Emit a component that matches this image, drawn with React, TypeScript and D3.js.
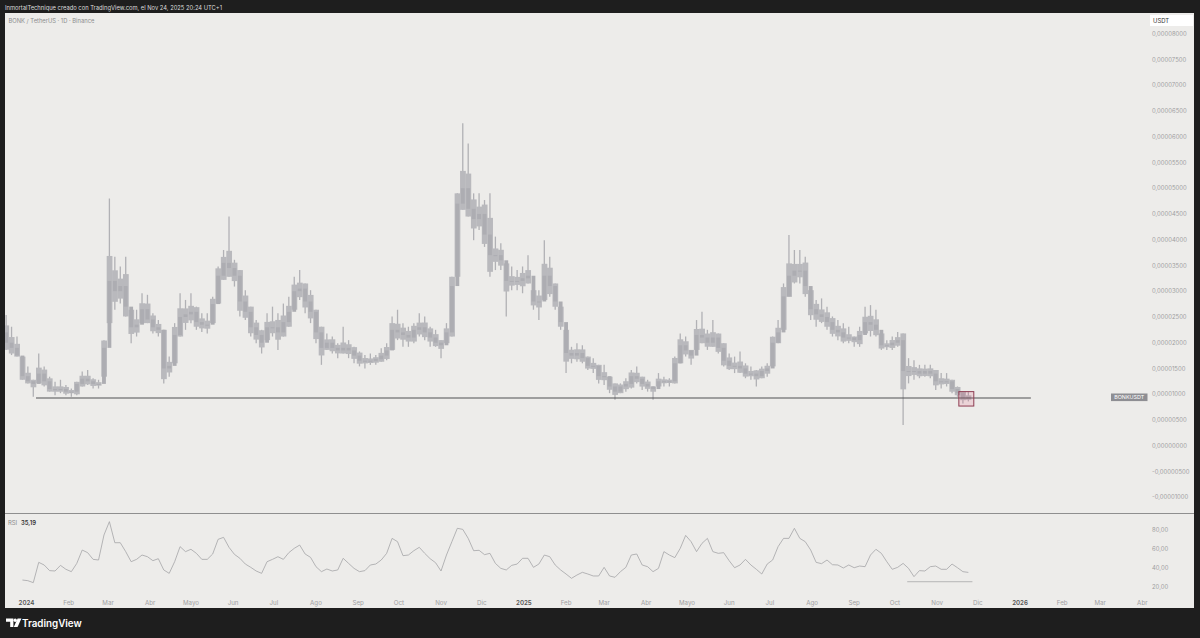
import React, { useRef, useEffect } from "react";
import { select, scaleLinear, scaleUtc, line, utcMonth } from "d3";

const W = 1200;
const H = 638;
const DAY = 86400000;

// BONK/USDT daily chart, read off in 4-day buckets from the Binance listing day
// prices are in millionths of a USDT (25.4 -> 0,00002540)
const startDay = Date.UTC(2023, 11, 15);
const bucketDays = 4;
const firstOpen = 22.0;

const highs = [
  25.4, 23.1, 21.2, 17.3, 15.4, 12.8, 17.9, 15.4, 13.4, 12.4,
  12.8, 11.8, 11.1, 12.4, 14.4, 14.7, 13.1, 12.8, 20.5, 48.0,
  36.7, 34.8, 36.7, 26.4, 26.4, 29.6, 29.3, 25.7, 24.4, 22.5,
  17.3, 23.8, 29.6, 28.3, 29.6, 27.0, 25.7, 25.7, 28.9, 34.8,
  38.0, 44.5, 36.1, 34.1, 30.2, 27.0, 24.4, 22.5, 25.7, 27.0,
  25.7, 27.6, 28.9, 32.8, 34.1, 31.5, 30.2, 26.4, 23.1, 21.8,
  21.2, 19.9, 23.1, 20.5, 19.2, 18.3, 17.6, 17.9, 17.6, 18.9,
  19.9, 25.1, 26.4, 23.8, 23.1, 23.8, 25.7, 25.1, 23.1, 22.5,
  20.5, 23.8, 32.8, 49.0, 62.6, 58.7, 49.0, 49.0, 47.7, 49.0,
  40.6, 39.3, 35.4, 34.8, 34.1, 34.8, 37.0, 30.2, 30.2, 39.9,
  36.7, 31.5, 27.0, 22.5, 19.2, 19.9, 19.5, 17.3, 17.0, 15.7,
  15.7, 13.4, 12.1, 12.1, 13.1, 14.7, 15.4, 13.4, 12.8, 11.5,
  14.1, 13.4, 13.1, 17.3, 21.8, 21.2, 18.6, 24.4, 26.0, 22.5,
  24.4, 21.8, 19.9, 17.9, 17.3, 18.3, 16.0, 15.4, 14.7, 15.4,
  16.0, 21.2, 24.4, 31.5, 40.9, 38.0, 38.0, 36.7, 30.2, 28.3,
  28.6, 27.0, 25.1, 24.4, 23.8, 23.1, 21.2, 23.1, 27.0, 27.3,
  26.4, 21.8, 20.5, 21.2, 22.1, 21.8, 17.0, 16.6, 15.7, 15.7,
  15.7, 14.7, 14.1, 14.1, 12.8, 11.5, 10.5, 10.5,
];

const lows = [
  18.6, 17.6, 17.3, 12.8, 12.1, 9.5, 12.1, 11.5, 10.5, 9.8,
  10.2, 9.8, 9.5, 9.8, 11.5, 11.8, 11.1, 11.1, 13.4, 23.8,
  26.4, 27.6, 25.1, 19.9, 21.2, 23.8, 23.8, 21.8, 21.2, 12.1,
  13.4, 16.0, 21.2, 22.5, 23.8, 22.5, 22.1, 21.8, 23.8, 27.6,
  32.2, 32.8, 30.9, 25.1, 24.4, 21.2, 19.9, 17.9, 20.5, 21.2,
  18.6, 21.2, 23.1, 26.4, 28.3, 25.7, 23.8, 19.9, 15.7, 18.6,
  17.9, 17.0, 17.9, 17.0, 16.0, 15.4, 15.0, 15.7, 15.7, 16.3,
  16.6, 18.6, 20.5, 19.2, 19.2, 19.9, 21.2, 20.5, 19.2, 19.2,
  17.0, 19.9, 21.2, 32.8, 45.8, 44.5, 39.9, 41.9, 38.6, 32.8,
  34.1, 34.1, 25.1, 30.2, 30.2, 29.6, 31.5, 26.4, 24.4, 28.3,
  28.9, 26.4, 22.5, 14.1, 16.0, 16.3, 16.0, 14.7, 14.1, 12.1,
  11.8, 10.2, 8.9, 10.2, 10.5, 11.1, 12.1, 10.8, 10.5, 8.9,
  11.5, 11.5, 11.5, 12.1, 16.0, 17.3, 15.7, 18.6, 19.9, 18.6,
  19.2, 17.9, 15.4, 14.7, 14.1, 14.1, 13.1, 12.8, 11.5, 13.1,
  13.4, 15.4, 19.9, 22.5, 28.9, 31.5, 31.5, 28.9, 24.4, 23.1,
  23.8, 22.5, 21.2, 20.5, 19.9, 19.9, 19.2, 19.2, 21.8, 21.2,
  21.2, 18.6, 18.6, 18.6, 19.2, 4.0, 12.1, 12.8, 13.1, 13.4,
  13.1, 10.8, 11.1, 11.5, 10.2, 9.5, 8.2, 8.6,
];

const closes = [
  20.0, 19.0, 17.5, 13.5, 12.5, 12.0, 14.0, 12.5, 11.0, 11.0,
  11.0, 10.5, 10.5, 12.0, 13.0, 12.5, 12.0, 12.0, 19.0, 32.0,
  30.0, 31.0, 27.0, 23.0, 23.5, 26.5, 24.5, 23.0, 22.5, 15.0,
  15.5, 21.5, 25.0, 25.5, 26.0, 24.0, 23.5, 23.5, 27.5, 33.0,
  35.5, 34.5, 33.0, 28.0, 26.0, 23.0, 21.5, 20.0, 23.0, 23.0,
  22.0, 24.0, 26.0, 30.0, 30.5, 28.0, 26.0, 22.0, 19.0, 20.0,
  19.0, 18.5, 19.0, 18.5, 17.5, 16.5, 16.5, 16.5, 16.8, 17.5,
  18.5, 22.5, 22.0, 21.5, 21.0, 22.5, 23.0, 22.0, 21.0, 20.0,
  19.5, 22.0, 31.0, 47.0, 50.0, 46.0, 44.0, 45.0, 41.0, 37.0,
  37.0, 36.0, 32.0, 32.0, 32.0, 32.5, 33.0, 28.0, 28.0, 33.0,
  31.0, 28.0, 24.0, 18.0, 17.5, 18.0, 17.0, 15.5, 15.5, 13.5,
  13.5, 11.5, 10.5, 11.5, 12.0, 13.5, 13.0, 12.0, 11.5, 11.0,
  12.5, 12.5, 12.5, 16.0, 19.5, 18.5, 17.5, 21.5, 21.0, 20.0,
  21.0, 19.0, 16.5, 15.5, 15.5, 15.0, 14.0, 14.0, 13.5, 14.5,
  15.0, 20.0, 22.0, 29.0, 33.0, 34.0, 34.0, 31.0, 26.5, 25.5,
  25.0, 24.0, 22.5, 22.0, 21.0, 21.0, 20.5, 21.5, 24.0, 23.5,
  22.5, 19.5, 19.5, 20.0, 20.5, 14.5, 14.5, 14.5, 14.0, 14.5,
  14.0, 12.5, 12.5, 12.5, 11.0, 10.2, 9.3, 9.4,
];

// RSI(14), same buckets, first value at bucket 3
const rsiStartBucket = 3;
const rsiValues = [
  27.1, 26.4, 24.3, 45.9, 43.1, 37.1, 36.7,
  42.7, 38.5, 36.0, 44.8, 59.0, 56.2, 49.1, 48.4, 75.0, 89.2,
  66.8, 66.8, 57.3, 46.6, 49.1, 53.7, 51.9, 47.7, 49.8, 37.8,
  34.2, 46.6, 62.6, 57.3, 59.8, 55.5, 49.1, 49.1, 54.8, 70.4,
  72.5, 61.9, 54.4, 50.2, 44.1, 40.6, 36.7, 34.2, 46.6, 49.1,
  51.9, 49.1, 56.2, 60.8, 64.3, 54.8, 51.2, 41.3, 36.0, 38.8,
  36.7, 37.8, 50.2, 44.8, 39.5, 36.0, 37.1, 43.1, 44.1, 48.4,
  55.5, 71.4, 67.9, 53.0, 53.7, 58.3, 61.9, 55.5, 49.8, 45.5,
  36.7, 53.7, 67.9, 82.1, 81.0, 71.4, 58.3, 58.7, 54.1, 55.5,
  44.8, 39.5, 37.8, 42.7, 44.1, 50.2, 50.2, 40.6, 44.1, 53.7,
  51.9, 43.1, 37.8, 33.5, 28.9, 32.4, 35.3, 33.5, 31.4, 31.4,
  40.6, 31.4, 30.0, 36.0, 40.6, 53.7, 54.8, 43.1, 41.3, 36.0,
  39.5, 57.3, 53.7, 50.9, 60.8, 74.6, 67.9, 57.3, 66.1, 71.4,
  57.3, 55.5, 56.2, 47.7, 40.2, 43.1, 49.1, 43.1, 38.5, 33.5,
  44.1, 48.4, 62.6, 71.4, 71.4, 82.1, 71.4, 67.9, 59.0, 45.9,
  44.5, 48.4, 43.4, 43.1, 39.9, 43.1, 40.2, 42.0, 41.3, 53.7,
  59.8, 55.5, 46.6, 38.5, 40.6, 44.8, 39.5, 30.7, 37.1, 36.7,
  41.3, 42.0, 38.5, 38.5, 44.1, 40.2, 36.0, 35.2,
];
const rsiLast = "35,19";

// drawings
const supportLevel = 9.26;
const supportFrom = "2024-01-08";
const supportTo = "2026-01-09";
const boxFrom = "2025-11-17";
const boxTo = "2025-11-28";
const boxLow = 7.7;
const boxHigh = 10.5;
const rsiLineLevel = 25.3;
const rsiLineFrom = "2025-10-10";
const rsiLineTo = "2025-11-27";

const priceTicks = [-10, -5, 0, 5, 10, 15, 20, 25, 30, 35, 40, 45, 50, 55, 60, 65, 70, 75, 80];
const rsiTicks = [20, 40, 60, 80];
const monthNames = ["", "Feb", "Mar", "Abr", "Mayo", "Jun", "Jul", "Ago", "Sep", "Oct", "Nov", "Dic"];

const FONT = "Inter, 'Noto Sans', Roboto, sans-serif";

function App() {
  const svgRef = useRef<SVGSVGElement>(null);

  useEffect(() => {
    const svg = select(svgRef.current);
    const content = svg.select(".content");
    content.selectAll("*").remove();

    const panel = { left: 5, right: 1194, top: 13, bottom: 608 };
    const sepY = 513.5;

    const x = scaleUtc()
      .domain([new Date(Date.UTC(2024, 0, 1)), new Date(Date.UTC(2026, 0, 1))])
      .range([26.5, 1020]);
    const yP = scaleLinear().domain([0, 80]).range([445.7, 33.7]);
    const yR = scaleLinear().domain([20, 80]).range([586.7, 530.3]);

    const bucketStart = (i: number) => new Date(startDay + i * bucketDays * DAY);
    const bucketMid = (i: number) => new Date(startDay + (i * bucketDays + bucketDays / 2) * DAY);

    const clip = content.append("g").attr("clip-path", "url(#pricePanel)");

    const bars = highs.map((h, i) => ({
      i,
      high: h,
      low: lows[i],
      open: i === 0 ? firstOpen : closes[i - 1],
      close: closes[i],
    }));

    // thin high-low wick, then the open-close body over it
    clip
      .selectAll(".wick")
      .data(bars)
      .join("line")
      .attr("class", "wick")
      .attr("x1", (d) => x(bucketMid(d.i)))
      .attr("x2", (d) => x(bucketMid(d.i)))
      .attr("y1", (d) => yP(d.high))
      .attr("y2", (d) => yP(d.low))
      .attr("stroke", "#b1b1b5")
      .attr("stroke-width", 1.3);

    // the daily bars within a bucket blur into a band; draw the middle part of each range
    const bandTop = (d) => Math.min(d.high, Math.max(d.open, d.close) + (d.high - d.low) * 0.2);
    const bandBot = (d) => Math.max(d.low, Math.min(d.open, d.close) - (d.high - d.low) * 0.2);
    clip
      .selectAll(".band")
      .data(bars)
      .join("rect")
      .attr("class", "band")
      .attr("x", (d) => x(bucketStart(d.i)))
      .attr("width", (d) => x(bucketStart(d.i + 1)) - x(bucketStart(d.i)) + 0.3)
      .attr("y", (d) => yP(bandTop(d)))
      .attr("height", (d) => Math.max(1, yP(bandBot(d)) - yP(bandTop(d))))
      .attr("fill", "#b9b9bd");

    clip
      .selectAll(".body")
      .data(bars)
      .join("rect")
      .attr("class", "body")
      .attr("x", (d) => x(bucketStart(d.i)) + 0.8)
      .attr("width", (d) => x(bucketStart(d.i + 1)) - x(bucketStart(d.i)) - 1.6)
      .attr("y", (d) => yP(Math.max(d.open, d.close)))
      .attr("height", (d) => Math.max(1, Math.abs(yP(d.open) - yP(d.close))))
      .attr("fill", "#adadb2");

    // support line
    content
      .append("line")
      .attr("x1", x(new Date(supportFrom)))
      .attr("x2", x(new Date(supportTo)))
      .attr("y1", yP(supportLevel))
      .attr("y2", yP(supportLevel))
      .attr("stroke", "#505053")
      .attr("stroke-width", 1.2);

    // highlight box
    content
      .append("rect")
      .attr("x", x(new Date(boxFrom)))
      .attr("y", yP(boxHigh))
      .attr("width", x(new Date(boxTo)) - x(new Date(boxFrom)))
      .attr("height", yP(boxLow) - yP(boxHigh))
      .attr("fill", "rgba(226,80,120,0.16)")
      .attr("stroke", "#8f3d52")
      .attr("stroke-width", 1);

    // price scale
    content
      .append("g")
      .selectAll("text")
      .data(priceTicks)
      .join("text")
      .attr("x", 1152)
      .attr("y", (d) => yP(d) + 2.1)
      .attr("font-size", 5.9)
      .attr("fill", "#9d9d9f")
      .text((d) => (d * 1e-6).toFixed(8).replace(".", ","));

    // last price tag
    const lastY = yP(closes[closes.length - 1]);
    content
      .append("rect")
      .attr("x", 1111)
      .attr("y", lastY - 3.8)
      .attr("width", 36.5)
      .attr("height", 7.6)
      .attr("fill", "#8e8e93");
    content
      .append("text")
      .attr("x", 1129.2)
      .attr("y", lastY + 2)
      .attr("text-anchor", "middle")
      .attr("font-size", 5.4)
      .attr("fill", "#ffffff")
      .text("BONKUSDT");

    // panel separator
    content
      .append("line")
      .attr("x1", panel.left)
      .attr("x2", panel.right)
      .attr("y1", sepY)
      .attr("y2", sepY)
      .attr("stroke", "#8f8f8f")
      .attr("stroke-width", 1);

    // RSI
    const rsiPts = rsiValues.map((v, k) => ({ t: bucketMid(k + rsiStartBucket), v }));
    const rsiLine = line<{ t: Date; v: number }>()
      .x((d) => x(d.t))
      .y((d) => yR(d.v));
    content
      .append("path")
      .attr("d", rsiLine(rsiPts))
      .attr("fill", "none")
      .attr("stroke", "#a4a4a7")
      .attr("stroke-width", 0.8);

    content
      .append("line")
      .attr("x1", x(new Date(rsiLineFrom)))
      .attr("x2", x(new Date(rsiLineTo)))
      .attr("y1", yR(rsiLineLevel))
      .attr("y2", yR(rsiLineLevel))
      .attr("stroke", "#a8a8aa")
      .attr("stroke-width", 0.8);

    content
      .append("g")
      .selectAll("text")
      .data(rsiTicks)
      .join("text")
      .attr("x", 1152)
      .attr("y", (d) => yR(d) + 2.1)
      .attr("font-size", 5.9)
      .attr("fill", "#9d9d9f")
      .text((d) => d.toFixed(2).replace(".", ","));

    // time axis
    const months = utcMonth.range(new Date(Date.UTC(2024, 0, 1)), new Date(Date.UTC(2026, 4, 1)));
    content
      .append("g")
      .selectAll("text")
      .data(months)
      .join("text")
      .attr("x", (d) => x(d))
      .attr("y", 604.5)
      .attr("text-anchor", "middle")
      .attr("font-size", 6.2)
      .attr("font-weight", (d) => (d.getUTCMonth() === 0 ? 600 : 400))
      .attr("fill", (d) => (d.getUTCMonth() === 0 ? "#555" : "#a0a0a2"))
      .text((d) => (d.getUTCMonth() === 0 ? String(d.getUTCFullYear()) : monthNames[d.getUTCMonth()]));
  }, []);

  return (
    <svg
      ref={svgRef}
      width={W}
      height={H}
      style={{ position: "absolute", left: 0, top: 0, fontFamily: FONT }}
    >
      <defs>
        <clipPath id="pricePanel">
          <rect x="5" y="13" width="1140" height="500" />
        </clipPath>
      </defs>
      <rect x="0" y="0" width={W} height={H} fill="#1e1e1e" />
      <rect x="5" y="13" width="1189" height="595" fill="#edecea" />
      <text x="5" y="9.5" fontSize="5.8" fill="#dcdcdc">
        InmortalTechnique creado con TradingView.com, el Nov 24, 2025 20:24 UTC+1
      </text>
      <text x="8.5" y="22.5" fontSize="5.8" fill="#8c8c8e">
        BONK / TetherUS · 1D · Binance
      </text>
      <rect x="1150" y="15" width="43" height="11" fill="#ffffff" />
      <text x="1153" y="23" fontSize="5.9" fill="#333">
        USDT
      </text>
      <text x="8" y="524.5" fontSize="5.9" fill="#8a8a8c">
        RSI
      </text>
      <text x="21" y="524.5" fontSize="5.9" fontWeight="600" fill="#333">
        {rsiLast}
      </text>
      <g className="content"></g>
      <g fill="#ffffff">
        <path d="M6,618.5 h7.4 v8.6 h-3.2 v-5.4 h-4.2 z" />
        <circle cx="15.2" cy="620.2" r="1.7" />
        <path d="M17.6,618.5 h3.8 l-3.8,8.6 h-3.8 z" />
        <text x="22" y="626.8" fontSize="9.8" fontWeight="600">
          TradingView
        </text>
      </g>
    </svg>
  );
}

export default App;
